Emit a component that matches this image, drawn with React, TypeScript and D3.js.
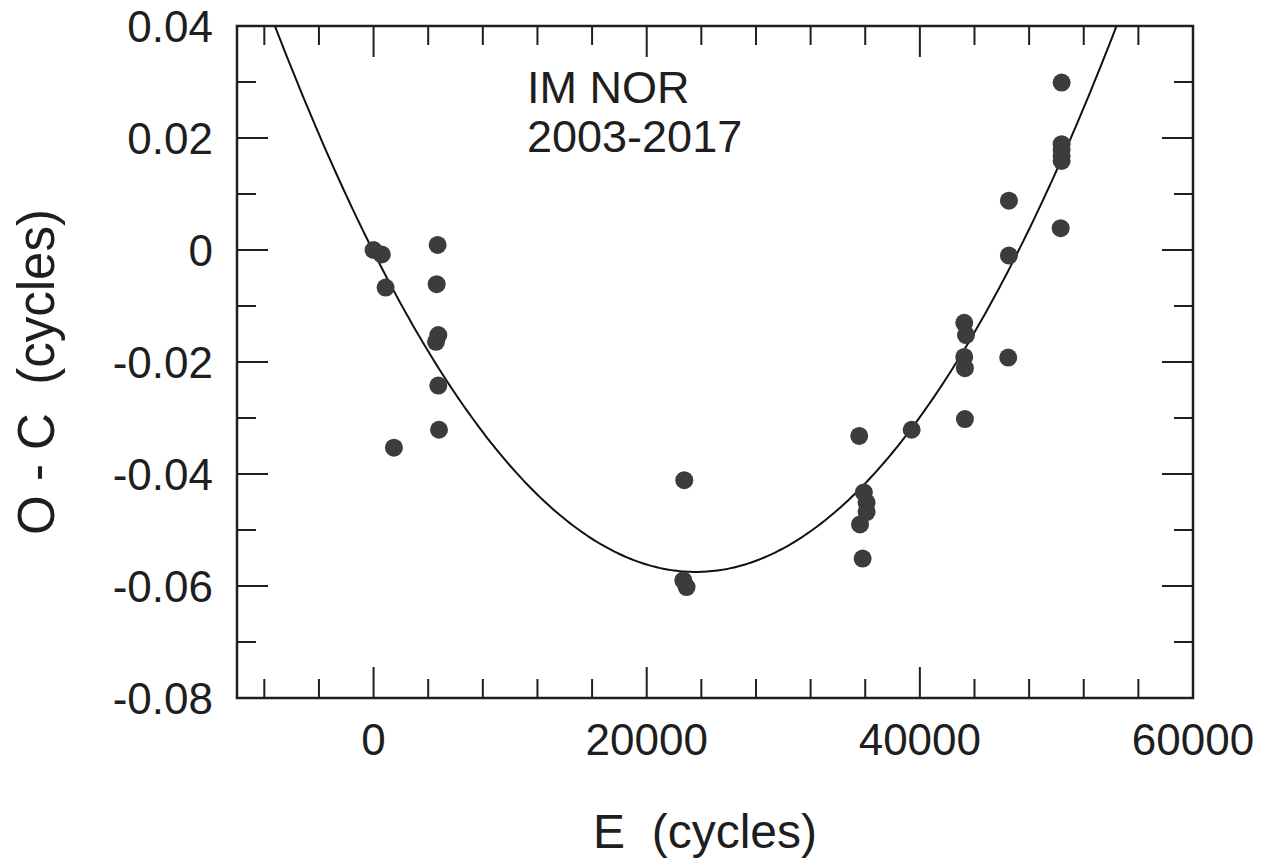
import React from "react";
import * as d3 from "d3";

// Observed O-C timings (cycle number E, O-C in cycles)
const epochs = [
  0, 600, 880, 1490, 4690, 4620, 4740, 4570, 4740, 4790,
  22750, 22680, 22920,
  35560, 35900, 36100, 36100, 35620, 35810, 39400,
  43250, 43380, 43250, 43300, 43300,
  46470, 46520, 46520,
  50380, 50380, 50380, 50380, 50380, 50310,
];
const oMinusC = [
  0.0, -0.0008, -0.0067, -0.0353, 0.0009, -0.0061, -0.0152, -0.0164, -0.0242, -0.0321,
  -0.0411, -0.059, -0.0602,
  -0.0332, -0.0433, -0.0451, -0.0468, -0.049, -0.0551, -0.0321,
  -0.013, -0.0152, -0.0191, -0.0211, -0.0302,
  -0.0192, 0.0088, -0.001,
  0.0299, 0.0189, 0.0179, 0.0168, 0.0159, 0.0039,
];
// Quadratic ephemeris fit: O-C = c0 + c1*E + c2*E^2
const fitCoefficients = [-0.00035, -4.845e-6, 1.027e-10];

const xMajorTicks = [0, 20000, 40000, 60000];
const xMajorLabels = ["0", "20000", "40000", "60000"];
const yMajorTicks = [0.04, 0.02, 0, -0.02, -0.04, -0.06, -0.08];
const yMajorLabels = ["0.04", "0.02", "0", "-0.02", "-0.04", "-0.06", "-0.08"];
const titleText = ["IM NOR", "2003-2017"];

const W = 1273;
const H = 867;
const L = 237, R = 1193, T = 26, B = 698;
const FONT = "'Liberation Sans', Arial, Helvetica, sans-serif";
const INK = "#1e1e1e";

export default function App() {
  const x = d3.scaleLinear().domain([-10000, 60000]).range([L, R]);
  const y = d3.scaleLinear().domain([-0.08, 0.04]).range([B, T]);

  const xMinor = d3.range(-8000, 60001, 4000).filter((v) => !xMajorTicks.includes(v));
  const yMinor = d3.range(-0.07, 0.04, 0.02);

  const samples = d3.range(-10000, 60001, 200);
  const line = d3
    .line<number>()
    .x((e) => x(e))
    .y((e) => y(fitCoefficients[0] + fitCoefficients[1] * e + fitCoefficients[2] * e * e));

  const longT = 31;
  const shortT = 19;

  return (
    <svg
      width={W}
      height={H}
      style={{ position: "absolute", left: 0, top: 0, background: "#fff" }}
      fontFamily={FONT}
    >
      <defs>
        <clipPath id="plotclip">
          <rect x={L} y={T} width={R - L} height={B - T} />
        </clipPath>
      </defs>
      <rect x={0} y={0} width={W} height={H} fill="#fff" />

      {/* ticks */}
      <g stroke={INK} strokeWidth={2}>
        {xMajorTicks.map((v) => (
          <g key={"xM" + v}>
            <line x1={x(v)} x2={x(v)} y1={B} y2={B - longT} />
            <line x1={x(v)} x2={x(v)} y1={T} y2={T + longT} />
          </g>
        ))}
        {xMinor.map((v) => (
          <g key={"xm" + v}>
            <line x1={x(v)} x2={x(v)} y1={B} y2={B - shortT} />
            <line x1={x(v)} x2={x(v)} y1={T} y2={T + shortT} />
          </g>
        ))}
        {yMajorTicks.map((v) => (
          <g key={"yM" + v}>
            <line x1={L} x2={L + longT} y1={y(v)} y2={y(v)} />
            <line x1={R} x2={R - longT} y1={y(v)} y2={y(v)} />
          </g>
        ))}
        {yMinor.map((v) => (
          <g key={"ym" + v}>
            <line x1={L} x2={L + shortT} y1={y(v)} y2={y(v)} />
            <line x1={R} x2={R - shortT} y1={y(v)} y2={y(v)} />
          </g>
        ))}
      </g>

      {/* fit curve */}
      <path
        d={line(samples) || ""}
        fill="none"
        stroke="#111"
        strokeWidth={2}
        clipPath="url(#plotclip)"
      />

      {/* points */}
      <g fill="#3c3c3c">
        {epochs.map((e, i) => (
          <circle key={i} cx={x(e)} cy={y(oMinusC[i])} r={9} />
        ))}
      </g>

      {/* frame */}
      <rect x={L} y={T} width={R - L} height={B - T} fill="none" stroke={INK} strokeWidth={2.5} />

      {/* tick labels */}
      <g fill={INK} fontSize={44}>
        {xMajorTicks.map((v, i) => (
          <text key={"xl" + v} x={x(v)} y={755} textAnchor="middle">
            {xMajorLabels[i]}
          </text>
        ))}
        {yMajorTicks.map((v, i) => (
          <text key={"yl" + v} x={213} y={y(v) + 16} textAnchor="end">
            {yMajorLabels[i]}
          </text>
        ))}
      </g>

      {/* axis titles */}
      <text x={705} y={848} textAnchor="middle" fontSize={48} fill={INK} style={{ whiteSpace: "pre" }}>
        {"E  (cycles)"}
      </text>
      <text
        transform={`translate(54, 372) rotate(-90)`}
        textAnchor="middle"
        fontSize={51}
        fill={INK}
        style={{ whiteSpace: "pre" }}
      >
        {"O - C  (cycles)"}
      </text>

      {/* annotation */}
      <g fill={INK} fontSize={45}>
        <text x={527} y={103}>{titleText[0]}</text>
        <text x={527} y={152}>{titleText[1]}</text>
      </g>
    </svg>
  );
}
